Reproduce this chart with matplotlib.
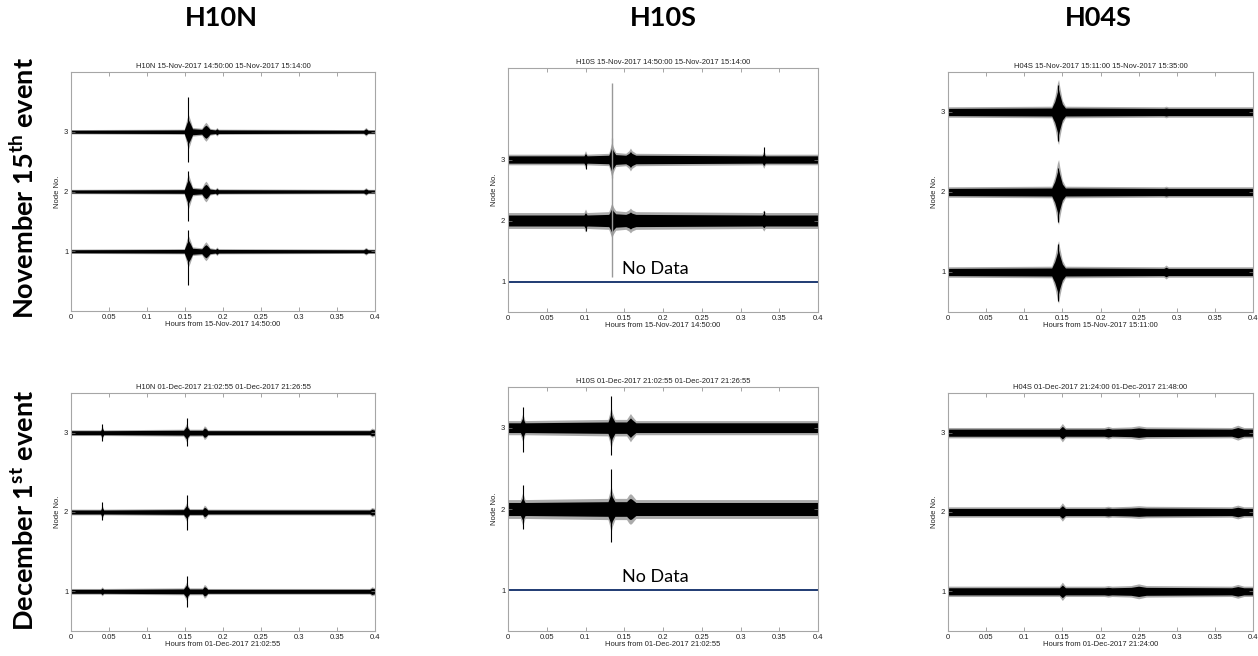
import matplotlib
matplotlib.use("Agg")
import numpy as np
import matplotlib.pyplot as plt

plt.rcParams['font.family'] = ['Liberation Sans', 'DejaVu Sans']
plt.rcParams['mathtext.fontset'] = 'custom'
plt.rcParams['mathtext.rm'] = 'Lato'
plt.rcParams['mathtext.bf'] = 'Lato:bold'

# ---- labels ----
column_names = ["H10N", "H10S", "H04S"]
row_names = [r"November 15$^{\mathbf{th}}$ event", r"December 1$^{\mathbf{st}}$ event"]
hour_ticks = [0, 0.05, 0.1, 0.15, 0.2, 0.25, 0.3, 0.35, 0.4]
hour_tick_labels = ["0", "0.05", "0.1", "0.15", "0.2", "0.25", "0.3", "0.35", "0.4"]
node_ticks = [1, 2, 3]

titles = [
    "H10N 15-Nov-2017 14:50:00 15-Nov-2017 15:14:00",
    "H10S 15-Nov-2017 14:50:00 15-Nov-2017 15:14:00",
    "H04S 15-Nov-2017 15:11:00 15-Nov-2017 15:35:00",
    "H10N 01-Dec-2017 21:02:55 01-Dec-2017 21:26:55",
    "H10S 01-Dec-2017 21:02:55 01-Dec-2017 21:26:55",
    "H04S 01-Dec-2017 21:24:00 01-Dec-2017 21:48:00",
]
xlabels = [
    "Hours from 15-Nov-2017 14:50:00",
    "Hours from 15-Nov-2017 14:50:00",
    "Hours from 15-Nov-2017 15:11:00",
    "Hours from 01-Dec-2017 21:02:55",
    "Hours from 01-Dec-2017 21:02:55",
    "Hours from 01-Dec-2017 21:24:00",
]
ylims = [(0, 4), (0.5, 4.5), (0.5, 3.5), (0.5, 3.5), (0.5, 3.5), (0.5, 3.5)]

# ---- trace envelopes (half-amplitude in node units) ----
# H10N, Nov 15
nov_h10n_t = [0, 0.149, 0.1525, 0.1545, 0.1565, 0.160, 0.172, 0.1755, 0.1775, 0.1795,
              0.183, 0.190, 0.192, 0.194, 0.385, 0.388, 0.391, 0.4]
nov_h10n_amp = {
    3: [0.025, 0.03, 0.15, 0.2, 0.15, 0.05, 0.04, 0.09, 0.11, 0.09, 0.04, 0.03, 0.05, 0.03, 0.025, 0.05, 0.025, 0.025],
    2: [0.025, 0.03, 0.15, 0.2, 0.15, 0.05, 0.04, 0.1, 0.12, 0.1, 0.04, 0.03, 0.05, 0.03, 0.025, 0.045, 0.025, 0.025],
    1: [0.025, 0.03, 0.14, 0.18, 0.14, 0.05, 0.04, 0.09, 0.11, 0.09, 0.04, 0.03, 0.05, 0.03, 0.025, 0.045, 0.025, 0.025],
}
nov_h10n_spikes = [(0.1545, 2.5, 3.58), (0.1545, 1.5, 2.35), (0.1545, 0.43, 1.36)]

# H10S, Nov 15 (node 1 no data)
nov_h10s_t = [0, 0.098, 0.100, 0.102, 0.130, 0.1325, 0.134, 0.1355, 0.139, 0.152, 0.156,
              0.158, 0.160, 0.165, 0.328, 0.330, 0.332, 0.4]
nov_h10s_amp = {
    3: [0.06, 0.06, 0.1, 0.06, 0.07, 0.15, 0.2, 0.15, 0.08, 0.07, 0.1, 0.13, 0.1, 0.07, 0.06, 0.1, 0.06, 0.06],
    2: [0.09, 0.09, 0.13, 0.09, 0.1, 0.16, 0.2, 0.16, 0.11, 0.1, 0.12, 0.14, 0.12, 0.1, 0.09, 0.12, 0.09, 0.09],
}
nov_h10s_spikes = [(0.100, 2.84, 3.0), (0.100, 1.83, 2.0), (0.134, 2.7, 3.36),
                   (0.134, 1.77, 2.25), (0.330, 2.95, 3.2), (0.330, 1.9, 2.16)]
nov_h10s_long_spike = (0.134, 1.08, 4.26)

# H04S, Nov 15
nov_h04s_t = [0, 0.136, 0.140, 0.1435, 0.145, 0.1465, 0.150, 0.154, 0.283, 0.286, 0.289, 0.4]
nov_h04s_amp = {
    3: [0.045, 0.05, 0.13, 0.25, 0.28, 0.22, 0.1, 0.05, 0.045, 0.05, 0.045, 0.045],
    2: [0.045, 0.05, 0.13, 0.25, 0.28, 0.22, 0.1, 0.05, 0.045, 0.05, 0.045, 0.045],
    1: [0.045, 0.05, 0.13, 0.24, 0.27, 0.21, 0.1, 0.05, 0.045, 0.06, 0.045, 0.045],
}
nov_h04s_spikes = [(0.1445, 2.64, 3.34), (0.1445, 1.63, 2.3), (0.1445, 0.64, 1.35)]

# H10N, Dec 1
dec_h10n_t = [0, 0.039, 0.041, 0.043, 0.148, 0.1505, 0.152, 0.1535, 0.156, 0.173, 0.1755,
              0.1775, 0.180, 0.393, 0.396, 0.4]
dec_h10n_amp = {
    3: [0.025, 0.025, 0.06, 0.025, 0.03, 0.06, 0.08, 0.06, 0.03, 0.03, 0.06, 0.05, 0.025, 0.025, 0.04, 0.03],
    2: [0.025, 0.025, 0.06, 0.025, 0.03, 0.06, 0.08, 0.06, 0.03, 0.03, 0.06, 0.05, 0.025, 0.025, 0.04, 0.03],
    1: [0.025, 0.025, 0.04, 0.025, 0.03, 0.06, 0.08, 0.06, 0.03, 0.03, 0.06, 0.05, 0.025, 0.025, 0.04, 0.03],
}
dec_h10n_spikes = [(0.041, 2.9, 3.11), (0.041, 1.9, 2.125), (0.152, 2.83, 3.19),
                   (0.152, 1.77, 2.21), (0.152, 0.8, 1.19)]

# H10S, Dec 1 (node 1 no data)
dec_h10s_t = [0, 0.016, 0.019, 0.022, 0.129, 0.1315, 0.133, 0.1345, 0.138, 0.153, 0.156,
              0.158, 0.160, 0.165, 0.4]
dec_h10s_amp = {
    3: [0.06, 0.06, 0.12, 0.06, 0.07, 0.13, 0.18, 0.13, 0.07, 0.07, 0.1, 0.12, 0.1, 0.06, 0.06],
    2: [0.08, 0.08, 0.14, 0.08, 0.09, 0.15, 0.2, 0.15, 0.09, 0.09, 0.12, 0.13, 0.12, 0.08, 0.08],
}
dec_h10s_spikes = [(0.019, 2.7, 3.25), (0.019, 1.75, 2.3), (0.133, 2.66, 3.39), (0.133, 1.6, 2.49)]

# H04S, Dec 1
dec_h04s_t = [0, 0.146, 0.150, 0.154, 0.205, 0.210, 0.215, 0.240, 0.250, 0.260, 0.372,
              0.380, 0.388, 0.4]
dec_h04s_amp = {
    3: [0.045, 0.045, 0.08, 0.045, 0.045, 0.055, 0.045, 0.05, 0.06, 0.05, 0.045, 0.065, 0.045, 0.045],
    2: [0.045, 0.045, 0.08, 0.045, 0.045, 0.05, 0.045, 0.05, 0.055, 0.05, 0.045, 0.06, 0.045, 0.045],
    1: [0.045, 0.045, 0.08, 0.045, 0.045, 0.05, 0.045, 0.05, 0.065, 0.05, 0.045, 0.06, 0.045, 0.045],
}
dec_h04s_spikes = []

panels = [
    (nov_h10n_t, nov_h10n_amp, nov_h10n_spikes, False),
    (nov_h10s_t, nov_h10s_amp, nov_h10s_spikes, True),
    (nov_h04s_t, nov_h04s_amp, nov_h04s_spikes, False),
    (dec_h10n_t, dec_h10n_amp, dec_h10n_spikes, False),
    (dec_h10s_t, dec_h10s_amp, dec_h10s_spikes, True),
    (dec_h04s_t, dec_h04s_amp, dec_h04s_spikes, False),
]

# axes boxes in pixels (left, top, right, bottom) of the 1258x656 figure
W, H = 1258, 656
boxes = [
    (71, 72, 375, 311), (508, 68, 818, 312), (948, 72, 1253, 312),
    (71, 393, 375, 631), (508, 387, 818, 631), (948, 393, 1253, 631),
]

fig = plt.figure(figsize=(W / 100, H / 100), dpi=100)

for i, (t, amps, spikes, no_data) in enumerate(panels):
    l, tp, r, b = boxes[i]
    ax = fig.add_axes([l / W, 1 - b / H, (r - l) / W, (b - tp) / H])
    t = np.array(t)
    for node, amp in amps.items():
        amp = np.array(amp)
        ax.fill_between(t, node - amp * 1.45, node + amp * 1.45, color='0.45', lw=0, alpha=0.6)
        ax.fill_between(t, node - amp, node + amp, color='black', lw=0)
    if spikes:
        st = [s[0] for s in spikes]
        ax.vlines(st, [s[1] for s in spikes], [s[2] for s in spikes], color='black', lw=0.8)
    if no_data:
        ax.plot([0, 0.4], [1, 1], color='#1f3b73', lw=1.4)
        ax.text(0.1465, 1.07, "No Data", fontsize=13, family=['Lato', 'DejaVu Sans'],
                ha='left', va='bottom')
        if i == 1:
            x0, y0, y1 = nov_h10s_long_spike
            ax.vlines([x0], [y0], [y1], color='0.6', lw=1.0)
    ax.set_xlim(0, 0.4)
    ax.set_ylim(*ylims[i])
    ax.set_xticks(hour_ticks)
    ax.set_xticklabels(hour_tick_labels)
    ax.set_yticks(node_ticks)
    ax.tick_params(direction='in', length=3, width=0.5, color='0.5', labelcolor='#222222',
                   labelsize=5.5, top=True, right=True, pad=2)
    for sp in ax.spines.values():
        sp.set_color('0.65')
        sp.set_linewidth(0.8)
    ax.set_title(titles[i], fontsize=5.5, pad=3, color='#222222')
    ax.set_xlabel(xlabels[i], fontsize=5.5, labelpad=0.5, color='#222222')
    ax.set_ylabel("Node No.", fontsize=5.5, labelpad=2, color='#222222')

header_x = [221, 663, 1098]
for name, x in zip(column_names, header_x):
    fig.text(x / W, 1 - 18 / H, name, fontsize=19.5, fontweight='bold',
             family=['Lato', 'DejaVu Sans'], ha='center', va='center')

row_y = [188, 510]
for name, y in zip(row_names, row_y):
    fig.text(24 / W, 1 - y / H, name, fontsize=19.5, fontweight='bold', rotation=90,
             family=['Lato', 'DejaVu Sans'], ha='center', va='center')

fig.savefig("out.png", dpi=100)
